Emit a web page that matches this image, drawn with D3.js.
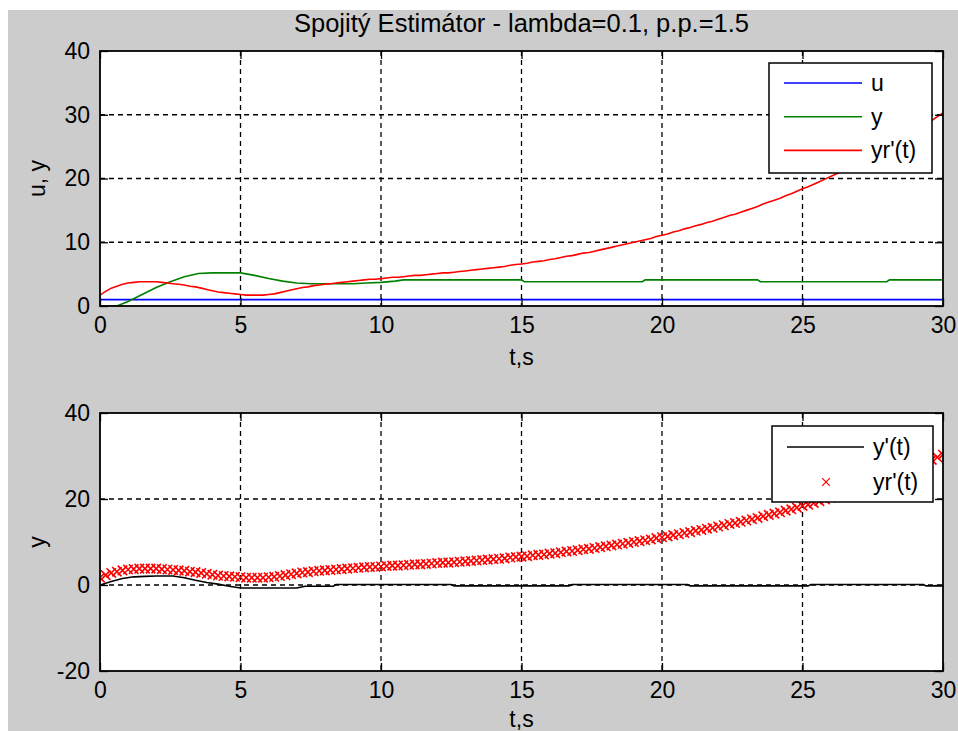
<!DOCTYPE html>
<html>
<head>
<meta charset="utf-8">
<script src="https://cdn.jsdelivr.net/npm/d3@7"></script>
<style>
  html, body { margin:0; padding:0; background:#fff; }
  svg { display:block; }
  text { font-family:"Liberation Sans", Arial, sans-serif; fill:#000; }
</style>
</head>
<body>
<svg id="chart" width="958" height="731"></svg>
<script>
// Spojitý Estimátor – zwei Subplots (u, y, yr' oben; y', yr' unten)
const titleText    = "Spojitý Estimátor - lambda=0.1, p.p.=1.5";
const xTicks       = [0, 5, 10, 15, 20, 25, 30];
const yTicksTop    = [0, 10, 20, 30, 40];
const yTicksBottom = [-20, 0, 20, 40];

// yr'(t), abgetastet alle 0.2 s (0 … 30 s)
const dt = 0.2;
const yrValues = [
  1.7, 2.3, 2.8, 3.1, 3.4, 3.6, 3.7, 3.8, 3.8, 3.8,
  3.8, 3.7, 3.6, 3.5, 3.4, 3.3, 3.1, 3.0, 2.8, 2.6,
  2.4, 2.2, 2.1, 2.0, 1.9, 1.8, 1.7, 1.7, 1.7, 1.7,
  1.8, 1.9, 2.1, 2.3, 2.5, 2.7, 2.9, 3.0, 3.2, 3.3,
  3.4, 3.5, 3.6, 3.7, 3.8, 3.9, 4.0, 4.1, 4.2, 4.2,
  4.3, 4.4, 4.5, 4.5, 4.6, 4.7, 4.8, 4.8, 4.9, 5.0,
  5.1, 5.2, 5.2, 5.3, 5.4, 5.5, 5.6, 5.7, 5.8, 5.9,
  6.0, 6.1, 6.2, 6.4, 6.5, 6.6, 6.7, 6.9, 7.0, 7.1,
  7.3, 7.4, 7.6, 7.8, 7.9, 8.1, 8.3, 8.4, 8.6, 8.8,
  9.0, 9.2, 9.4, 9.6, 9.8, 10.0, 10.2, 10.4, 10.6, 10.9,
  11.1, 11.3, 11.6, 11.8, 12.1, 12.3, 12.6, 12.8, 13.1, 13.3,
  13.6, 13.9, 14.2, 14.4, 14.7, 15.0, 15.3, 15.6, 16.0, 16.3,
  16.6, 16.9, 17.3, 17.6, 18.0, 18.4, 18.7, 19.1, 19.5, 19.9,
  20.3, 20.7, 21.1, 21.5, 22.0, 22.4, 22.9, 23.3, 23.8, 24.3,
  24.8, 25.3, 25.8, 26.3, 26.9, 27.4, 28.0, 28.6, 29.1, 29.7,
  30.3
];

// u(t) – konstant
const uPoints = [[0, 1], [30, 1]];

// y(t) – Ausgang (grün)
const yPoints = [
  [0, 0], [0.6, 0], [1.0, 0.7], [1.5, 1.8], [2.0, 2.9], [2.5, 3.8], [3.0, 4.6],
  [3.5, 5.1], [4.0, 5.2], [5.0, 5.2], [5.5, 4.8], [6.0, 4.3], [6.5, 3.9],
  [7.0, 3.6], [7.5, 3.5], [9.0, 3.5], [9.5, 3.6], [10.0, 3.7], [10.5, 3.9],
  [10.8, 4.1], [15.0, 4.1], [15.1, 3.8], [19.3, 3.8], [19.4, 4.1], [23.4, 4.1],
  [23.5, 3.8], [28.0, 3.8], [28.1, 4.1], [30, 4.1]
];

// y'(t) – Ableitung (schwarz)
const ydPoints = [
  [0, 0], [0.4, 0.8], [0.8, 1.5], [1.2, 1.9], [1.6, 2.0], [2.0, 2.1], [2.6, 2.1],
  [3.0, 1.7], [3.4, 1.1], [3.8, 0.6], [4.2, 0.2], [4.6, -0.3], [5.0, -0.7],
  [7.0, -0.7], [7.3, -0.3], [8.3, -0.3], [8.4, 0.1], [12.5, 0.1], [12.6, -0.2],
  [16.7, -0.2], [16.8, 0.1], [20.9, 0.1], [21.0, -0.2], [25.2, -0.2], [25.3, 0.1],
  [29.3, 0.1], [29.4, -0.2], [30, -0.2]
];

const topLegend    = [{ name:'u', color:'#0000ff' }, { name:'y', color:'#008000' }, { name:"yr'(t)", color:'#ff0000' }];
const bottomLegend = [{ name:"y'(t)", color:'#000000', kind:'line' }, { name:"yr'(t)", color:'#ff0000', kind:'x' }];

const FS = 23;
const svg = d3.select('#chart');

// grauer Figure-Hintergrund
svg.append('rect')
  .attr('x', 8).attr('y', 10).attr('width', 950).attr('height', 721)
  .attr('fill', '#cccccc');

const x = d3.scaleLinear().domain([0, 30]).range([100, 943]);
const yrData = yrValues.map((v, i) => [i * dt, v]);

function panel(id, yDomain, yTicks, top, bottom) {
  const y = d3.scaleLinear().domain(yDomain).range([bottom, top]);
  const g = svg.append('g');

  g.append('rect')
    .attr('x', x.range()[0]).attr('y', top)
    .attr('width', x.range()[1] - x.range()[0]).attr('height', bottom - top)
    .attr('fill', '#fff');

  svg.append('clipPath').attr('id', id)
    .append('rect')
      .attr('x', x.range()[0]).attr('y', top)
      .attr('width', x.range()[1] - x.range()[0]).attr('height', bottom - top);

  // Gitter (gestrichelt)
  g.selectAll('line.gx').data(xTicks.slice(1, -1)).enter().append('line')
    .attr('x1', d => x(d)).attr('x2', d => x(d))
    .attr('y1', top).attr('y2', bottom)
    .attr('stroke', '#000').attr('stroke-width', 1.3).attr('stroke-dasharray', '5,4');
  g.selectAll('line.gy').data(yTicks.slice(1, -1)).enter().append('line')
    .attr('y1', d => y(d)).attr('y2', d => y(d))
    .attr('x1', x.range()[0]).attr('x2', x.range()[1])
    .attr('stroke', '#000').attr('stroke-width', 1.3).attr('stroke-dasharray', '5,4');

  const plot = g.append('g').attr('clip-path', `url(#${id})`);

  // Achsen (Ticks nach innen)
  const ax = (axis, tr, labels) => {
    const a = g.append('g').attr('transform', tr).call(axis);
    a.select('.domain').remove();
    a.selectAll('line').attr('stroke', '#000').attr('stroke-width', 1.3);
    if (labels) a.selectAll('text').attr('font-size', FS).attr('font-family', '"Liberation Sans", Arial, sans-serif').attr('fill', '#000');
    else a.selectAll('text').remove();
  };
  const fmt = d => String(d);
  ax(d3.axisBottom(x).tickValues(xTicks).tickFormat(fmt).tickSizeInner(-8).tickSizeOuter(0).tickPadding(11), `translate(0,${bottom})`, true);
  ax(d3.axisTop(x).tickValues(xTicks).tickSizeInner(-8).tickSizeOuter(0), `translate(0,${top})`, false);
  ax(d3.axisLeft(y).tickValues(yTicks).tickFormat(fmt).tickSizeInner(-8).tickSizeOuter(0).tickPadding(10), `translate(${x.range()[0]},0)`, true);
  ax(d3.axisRight(y).tickValues(yTicks).tickSizeInner(-8).tickSizeOuter(0), `translate(${x.range()[1]},0)`, false);

  return { g, plot, y, top, bottom };
}

// Titel
svg.append('text')
  .attr('x', x(15)).attr('y', 32)
  .attr('text-anchor', 'middle')
  .attr('font-size', 25.5)
  .text(titleText);

// ---------- oberer Plot ----------
const p1 = panel('clipTop', [0, 40], yTicksTop, 51, 306);
const line1 = d3.line().x(d => x(d[0])).y(d => p1.y(d[1]));
[[uPoints, '#0000ff'], [yPoints, '#008000'], [yrData, '#ff0000']].forEach(([d, c]) => {
  p1.plot.append('path').datum(d)
    .attr('d', line1).attr('fill', 'none')
    .attr('stroke', c).attr('stroke-width', 1.6);
});

// ---------- unterer Plot ----------
const p2 = panel('clipBottom', [-20, 40], yTicksBottom, 413, 671);
const line2 = d3.line().x(d => x(d[0])).y(d => p2.y(d[1]));
p2.plot.append('path').datum(ydPoints)
  .attr('d', line2).attr('fill', 'none')
  .attr('stroke', '#000').attr('stroke-width', 1.6);

const xSym  = d3.symbol().type(d3.symbolTimes || d3.symbolX).size(60);
const xSymL = d3.symbol().type(d3.symbolTimes || d3.symbolX).size(40);
p2.plot.selectAll('path.mk').data(yrData).enter().append('path')
  .attr('class', 'mk')
  .attr('d', xSym)
  .attr('transform', d => `translate(${x(d[0])},${p2.y(d[1])})`)
  .attr('fill', 'none').attr('stroke', '#ff0000').attr('stroke-width', 1.6);

// Rahmen
[p1, p2].forEach(p => {
  p.g.append('rect')
    .attr('x', x.range()[0]).attr('y', p.top)
    .attr('width', x.range()[1] - x.range()[0]).attr('height', p.bottom - p.top)
    .attr('fill', 'none').attr('stroke', '#000').attr('stroke-width', 1.8);
});

// Achsenbeschriftungen
[365, 727].forEach(yy => {
  svg.append('text')
    .attr('x', x(15)).attr('y', yy)
    .attr('text-anchor', 'middle').attr('font-size', FS)
    .text('t,s');
});
svg.append('text')
  .attr('transform', `translate(45,${(51 + 306) / 2}) rotate(-90)`)
  .attr('text-anchor', 'middle').attr('font-size', FS)
  .text('u, y');
svg.append('text')
  .attr('transform', `translate(45,${(413 + 671) / 2}) rotate(-90)`)
  .attr('text-anchor', 'middle').attr('font-size', FS)
  .text('y');

// ---------- Legenden ----------
const leg1 = svg.append('g');
leg1.append('rect')
  .attr('x', 769).attr('y', 63).attr('width', 163).attr('height', 110)
  .attr('fill', '#fff').attr('stroke', '#000').attr('stroke-width', 1.5);
topLegend.forEach((d, i) => {
  const yy = 83 + i * 33.7;
  leg1.append('line')
    .attr('x1', 784).attr('x2', 862).attr('y1', yy).attr('y2', yy)
    .attr('stroke', d.color).attr('stroke-width', 1.6);
  leg1.append('text')
    .attr('x', 871).attr('y', yy).attr('dy', '0.35em')
    .attr('font-size', FS).text(d.name);
});

const leg2 = svg.append('g');
leg2.append('rect')
  .attr('x', 772).attr('y', 426).attr('width', 161).attr('height', 76)
  .attr('fill', '#fff').attr('stroke', '#000').attr('stroke-width', 1.5);
bottomLegend.forEach((d, i) => {
  const yy = 447 + i * 35;
  if (d.kind === 'line') {
    leg2.append('line')
      .attr('x1', 787).attr('x2', 864).attr('y1', yy).attr('y2', yy)
      .attr('stroke', d.color).attr('stroke-width', 1.6);
  } else {
    leg2.append('path')
      .attr('d', xSymL)
      .attr('transform', `translate(826,${yy})`)
      .attr('fill', 'none').attr('stroke', d.color).attr('stroke-width', 1.2);
  }
  leg2.append('text')
    .attr('x', 873).attr('y', yy).attr('dy', '0.35em')
    .attr('font-size', FS).text(d.name);
});
</script>
</body>
</html>
